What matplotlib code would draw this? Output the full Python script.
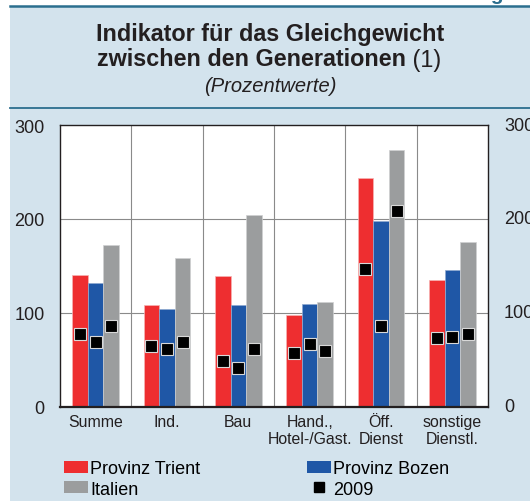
import numpy as np
import matplotlib.pyplot as plt
from matplotlib.patches import Rectangle, Patch
from matplotlib.lines import Line2D

plt.rcParams['font.family'] = ['Liberation Sans', 'DejaVu Sans']

kategorien = ['Summe', 'Ind.', 'Bau', 'Hand.,\nHotel-/Gast.', 'Öff.\nDienst', 'sonstige\nDienstl.']
trient = [140, 108, 139, 98, 244, 135]
bozen = [132, 104, 109, 110, 198, 146]
italien = [172, 158, 204, 112, 273, 176]
# Werte 2009 (Quadrate)
trient_2009 = [78, 65, 49, 57, 147, 73]
bozen_2009 = [69, 62, 41, 67, 86, 74]
italien_2009 = [86, 69, 62, 60, 209, 78]
yticks = [0, 100, 200, 300]

rot = '#ee2e30'
blau = '#1f57a6'
grau = '#9b9d9e'
hintergrund = '#d3e3ed'
linie = '#2b6e8e'

W, H = 530, 502
fig = plt.figure(figsize=(W / 100, H / 100), dpi=100)
fig.patch.set_facecolor('white')

# Hintergrund und Linien
fig.patches.append(Rectangle((10 / W, 0), 1, 1 - 7 / H, transform=fig.transFigure,
                             facecolor=hintergrund, edgecolor='none', zorder=-5))
fig.add_artist(Line2D([10 / W, 1], [1 - 6.5 / H] * 2, color=linie, lw=1.8))
fig.add_artist(Line2D([10 / W, 1], [1 - 109 / H] * 2, color=linie, lw=1.3))
fig.text(521 / W, 1 + 0.5 / H, 'Abbildung 3', color=linie, fontsize=15,
         fontweight='bold', ha='right', va='baseline')

# Titel
fig.text(270 / W, 1 - 35 / H, 'Indikator für das Gleichgewicht', fontsize=16.8,
         fontweight='bold', ha='center', va='center', color='#231f20')
t2 = fig.text(97 / W, 1 - 60 / H, 'zwischen den Generationen', fontsize=16.8,
              fontweight='bold', ha='left', va='center', color='#231f20')
fig.add_artist(plt.Annotation(' (1)', xy=(1, 0), xycoords=t2, fontsize=16.8,
                              color='#231f20', ha='left', va='bottom'))
fig.text(270 / W, 1 - 87 / H, '(Prozentwerte)', fontsize=14.5, style='italic',
         ha='center', va='center', color='#231f20')

ax = fig.add_axes([60 / W, 1 - 408 / H, 428 / W, 282 / H])
ax.set_facecolor('white')
x = np.arange(len(kategorien))
b = 0.218
ax.bar(x - b, trient, b, color=rot, edgecolor='#f6b3b3', linewidth=0.5, zorder=2)
ax.bar(x, bozen, b, color=blau, edgecolor='#8fa9d0', linewidth=0.5, zorder=2)
ax.bar(x + b, italien, b, color=grau, edgecolor='#cfd0d1', linewidth=0.5, zorder=2)
for dx, werte in zip([-b, 0, b], [trient_2009, bozen_2009, italien_2009]):
    ax.plot(x + dx, werte, ls='none', marker='s', ms=8, mfc='black',
            mec='#d8d8d8', mew=0.8, zorder=3)

ax.set_xlim(-0.5, len(kategorien) - 0.5)
ax.set_ylim(0, 300)
ax.set_yticks(yticks)
ax.set_xticks(x)
ax.set_xticklabels(kategorien, fontsize=11.4, linespacing=1.2)
ax.tick_params(axis='x', length=0, pad=5, colors='#231f20')
ax.tick_params(axis='y', length=0, pad=11, labelsize=13, colors='#231f20')
for xv in np.arange(0.5, len(kategorien) - 0.5, 1):
    ax.axvline(xv, color='#8a8a8a', lw=0.8, zorder=1)
for yv in [100, 200]:
    ax.axhline(yv, color='#8a8a8a', lw=0.8, zorder=1)
for s in ax.spines.values():
    s.set_color('#231f20')
    s.set_linewidth(1.0)
ax.spines['bottom'].set_linewidth(1.6)

# Achsenbeschriftung der Nachbargrafik (rechts abgeschnitten)
for yv in yticks:
    yf = ax.transData.transform((0, yv))[1] / fig.bbox.height
    fig.text(504 / W, yf, str(yv), fontsize=13, ha='left', va='center', color='#231f20')

handles = [Patch(facecolor=rot), Patch(facecolor=grau), Patch(facecolor=blau),
           Line2D([], [], ls='none', marker='s', ms=7.5, mfc='black', mec='black')]
labels = ['Provinz Trient', 'Italien', 'Provinz Bozen', '2009']
fig.legend(handles, labels, ncol=2, loc='upper left', bbox_to_anchor=(64 / W, 1 - 461 / H),
           frameon=False, fontsize=13, borderpad=0, borderaxespad=0, handlelength=1.33,
           handleheight=0.67, handletextpad=0.12, columnspacing=5.9, labelspacing=0.2)

fig.savefig('out.png', dpi=100)
